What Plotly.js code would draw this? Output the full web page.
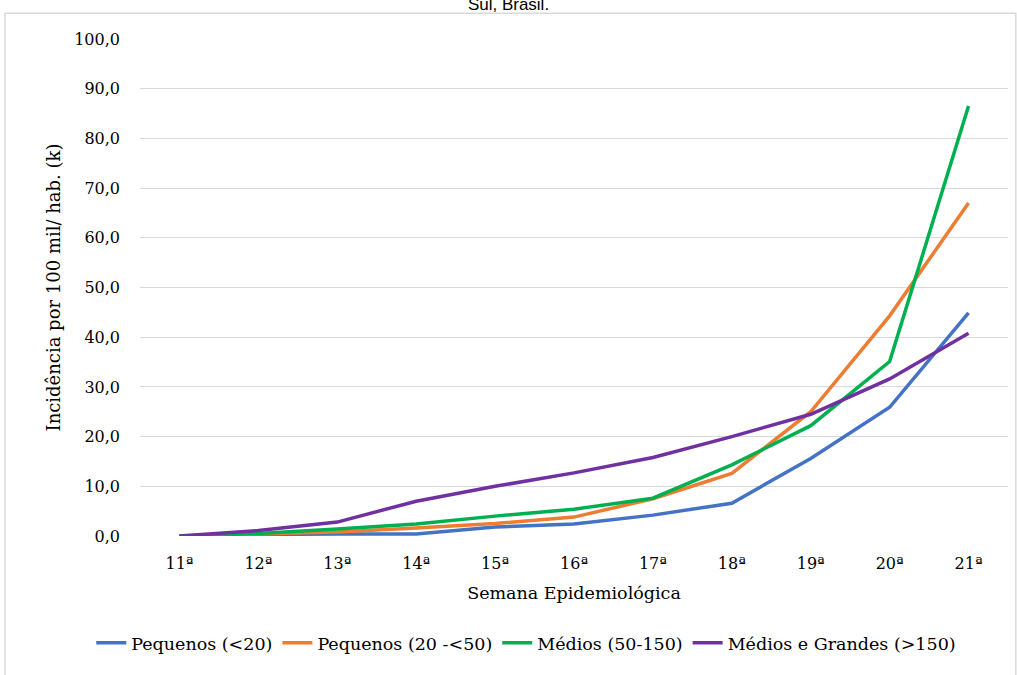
<!DOCTYPE html>
<html>
<head>
<meta charset="utf-8">
<script src="https://cdn.plot.ly/plotly-3.0.1.min.js"></script>
<style>
html,body{margin:0;padding:0;background:#fff;}
#chart{width:1017px;height:675px;}
</style>
</head>
<body>
<div id="chart"></div>
<script>
const semanas = ["11ª","12ª","13ª","14ª","15ª","16ª","17ª","18ª","19ª","20ª","21ª"];
const pequenosMenor20 = [0.0, 0.3, 0.4, 0.4, 1.8, 2.4, 4.2, 6.6, 15.6, 25.9, 44.9];
const pequenos20a50 = [0.0, 0.4, 0.8, 1.6, 2.5, 3.8, 7.5, 12.6, 25.0, 44.3, 67.0];
const medios50a150 = [0.0, 0.5, 1.4, 2.4, 4.0, 5.4, 7.6, 14.3, 22.2, 35.1, 86.5];
const mediosGrandes = [0.0, 1.1, 2.8, 7.0, 10.0, 12.7, 15.8, 20.0, 24.5, 31.6, 40.8];
const seriesNomes = ["Pequenos (<20)","Pequenos (20 -<50)","Médios (50-150)","Médios e Grandes (>150)"];
const cores = ["#4472C4","#ED7D31","#00B050","#7030A0"];
const valores = [pequenosMenor20, pequenos20a50, medios50a150, mediosGrandes];

const serif = '"DejaVu Serif", "Liberation Serif", serif';
const traces = valores.map((v,i)=>({
  x: semanas, y: v, type: "scatter", mode: "lines", name: seriesNomes[i],
  line: {color: cores[i], width: 3.5}
}));

const layout = {
  width: 1017, height: 675,
  margin: {l: 140, r: 9, t: 39, b: 139},
  paper_bgcolor: "#fff", plot_bgcolor: "#fff",
  separators: ",.",
  title: {text: "Sul, Brasil.", x: 0.5, xref: "container", y: 0.994, yref: "container", yanchor: "middle",
          font: {family: '"Liberation Sans", Arial, sans-serif', size: 17, color: "#000"}},
  xaxis: {type: "category", categoryorder: "array", categoryarray: semanas, range: [-0.5, 10.5],
          showgrid: false, zeroline: false, showline: false, ticks: "",
          ticklabelstandoff: 16,
          tickfont: {family: serif, size: 16, color: "#000"},
          title: {text: "Semana Epidemiológica", standoff: 14, font: {family: serif, size: 17.5, color: "#000"}}},
  yaxis: {range: [0, 100], dtick: 10, tickformat: ".1f", showgrid: true, gridcolor: "#d9d9d9", gridwidth: 1,
          zeroline: false, showline: false, ticks: "", ticklabelstandoff: 19,
          tickfont: {family: serif, size: 16, color: "#000"},
          title: {text: "Incidência por 100 mil/ hab. (k)", standoff: 8, font: {family: serif, size: 18, color: "#000"}}},
  showlegend: true,
  legend: {orientation: "h", x: 0.445, xanchor: "center", y: -0.215, yanchor: "middle",
           font: {family: serif, size: 17.5, color: "#000"}, itemwidth: 30, tracegroupgap: 0},
  shapes: [{type: "rect", xref: "paper", yref: "paper", x0: -0.1555, x1: 1.009, y0: -0.4, y1: 1.052,
            line: {color: "#d9d9d9", width: 1.5}, fillcolor: "rgba(0,0,0,0)", layer: "below"}]
};
Plotly.newPlot("chart", traces, layout, {displayModeBar: false});
</script>
</body>
</html>
